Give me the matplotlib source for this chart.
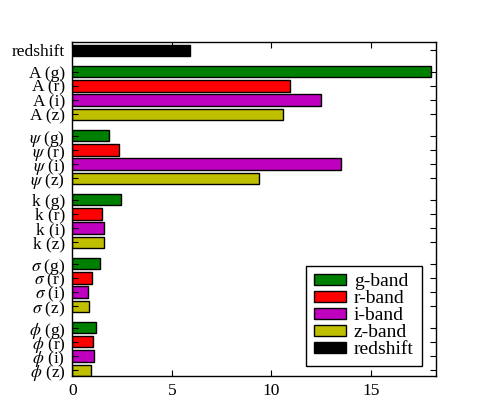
import numpy as np
import matplotlib
matplotlib.use("Agg")
import matplotlib.pyplot as plt

plt.rcParams['font.family'] = ['Liberation Serif', 'DejaVu Serif']
plt.rcParams['mathtext.fontset'] = 'stix'
plt.rcParams['font.size'] = 12.5

# parameter groups, top to bottom
groups = ['A', r'$\psi$', 'k', r'$\sigma$', r'$\phi$']
bands = ['g', 'r', 'i', 'z']
band_labels = ['g-band', 'r-band', 'i-band', 'z-band']
band_colors = ['g', 'r', 'm', 'y']

# importance values per band, one entry per group (A, psi, k, sigma, phi)
g_vals = [18.0, 1.87, 2.44, 1.38, 1.21]
r_vals = [10.95, 2.37, 1.50, 0.99, 1.06]
i_vals = [12.5, 13.48, 1.58, 0.79, 1.11]
z_vals = [10.59, 9.36, 1.57, 0.82, 0.92]
redshift_val = 5.9

band_vals = [g_vals, r_vals, i_vals, z_vals]

fig = plt.figure(figsize=(4.85, 4.18), dpi=100)
ax = fig.add_axes([0.149, 0.1, 0.751, 0.8])

ticks = []
ticklabels = []
handles = []
ngroup = len(groups)
for b, (band, vals, col, lab) in enumerate(zip(bands, band_vals, band_colors, band_labels)):
    pos = [(ngroup - 1 - j) * 4.5 + (3 - b) for j in range(ngroup)]
    h = ax.barh(pos, vals, height=0.8, color=col, edgecolor='k', linewidth=1, label=lab)
    handles.append(h)
    for j, p in enumerate(pos):
        ticks.append(p)
        ticklabels.append(f"{groups[j]} ({band})")

z_pos = (ngroup - 1) * 4.5 + 4.5
h = ax.barh([z_pos], [redshift_val], height=0.8, color='k', edgecolor='k', linewidth=1, label='redshift')
handles.append(h)
ticks.append(z_pos)
ticklabels.append('redshift')

ax.set_yticks(ticks)
ax.set_yticklabels(ticklabels)
ax.set_xticks([0, 5, 10, 15])
ax.set_xlim(0, 18.3)
ax.set_ylim(-0.42, 23.1)
ax.tick_params(direction='in', top=True, right=True, length=4, width=0.8, pad=5)
for s in ax.spines.values():
    s.set_linewidth(1)

leg = ax.legend(handles=handles, loc='lower right', bbox_to_anchor=(0.959, 0.03),
                fancybox=False, framealpha=1, edgecolor='k', borderaxespad=0,
                fontsize=14, handlelength=1.65, handleheight=0.55, handletextpad=0.4,
                labelspacing=0.0, borderpad=0.4)
leg.get_frame().set_linewidth(1)

fig.savefig("out.png", dpi=100)
